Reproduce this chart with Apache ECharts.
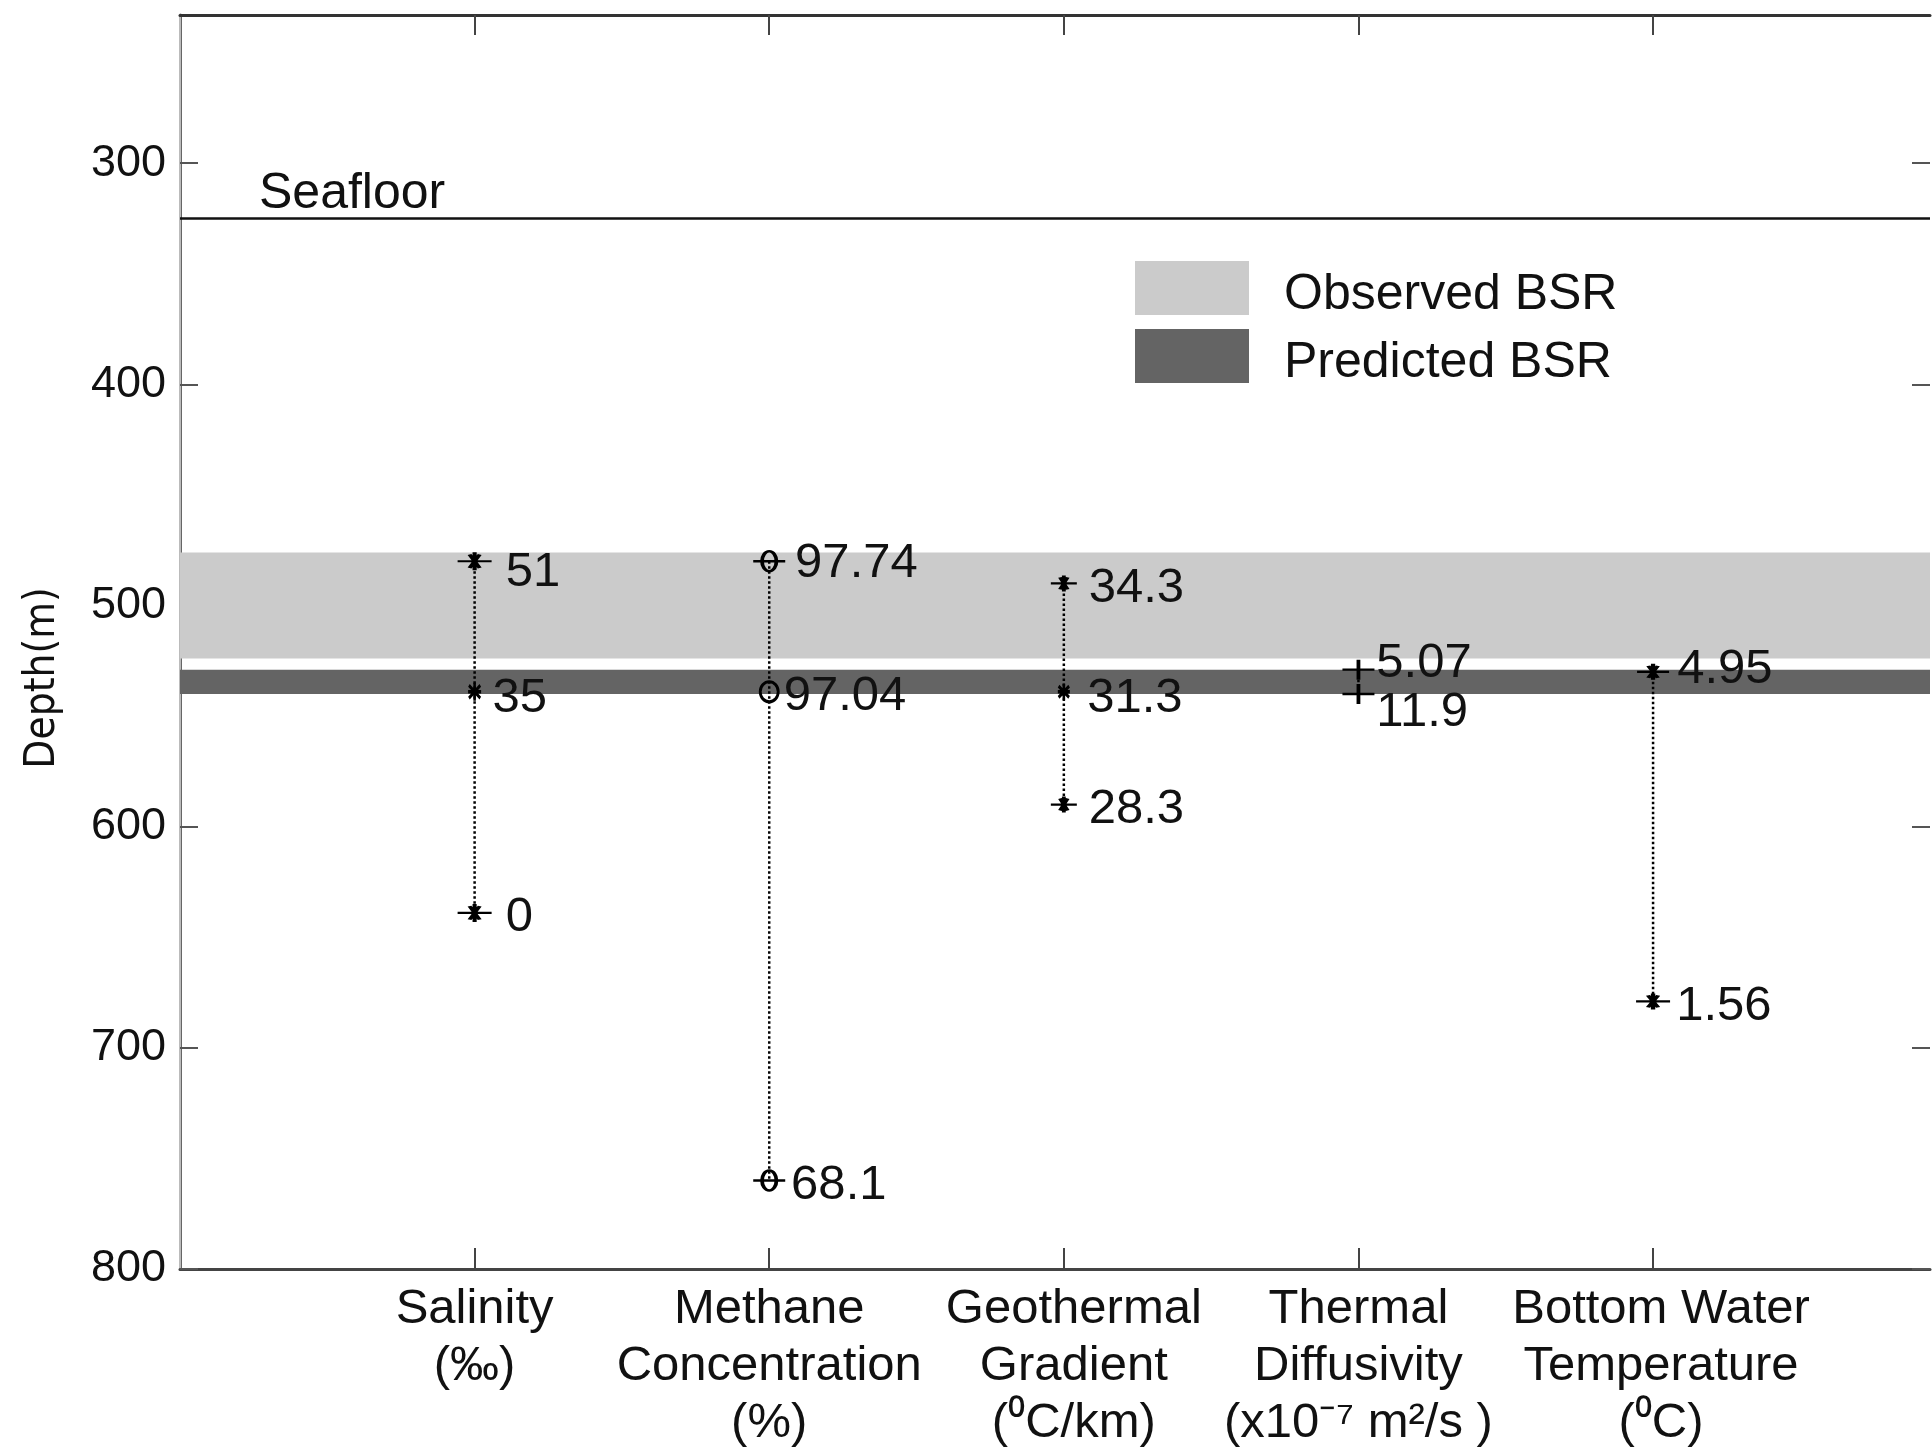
<!DOCTYPE html>
<html>
<head>
<meta charset="utf-8">
<script src="https://cdn.jsdelivr.net/npm/echarts@6/dist/echarts.min.js"></script>
<style>html,body{margin:0;padding:0;background:#fff}#c{width:1932px;height:1452px}</style>
</head>
<body>
<div id="c"></div>
<script>
// ---- data ----
const categories = ['Salinity\n(‰)', 'Methane\nConcentration\n(%)', 'Geothermal\nGradient\n(⁰C/km)', 'Thermal\nDiffusivity\n(x10⁻⁷ m²/s )', 'Bottom Water\nTemperature\n(⁰C)'];
const categoryPos = [1, 2, 3, 4, 5];
const depthTicks = [300, 400, 500, 600, 700, 800];
const seafloorDepth = 325;
const observedBSR = [476, 524];
const predictedBSR = [529, 540];

const salinityDepth = [480, 539, 639];
const salinityValue = ['51', '35', '0'];
const methaneDepth = [480, 539, 760];
const methaneValue = ['97.74', '97.04', '68.1'];
const geothermalDepth = [490, 539, 590];
const geothermalValue = ['34.3', '31.3', '28.3'];
const diffusivityDepth = [529, 540];
const diffusivityValue = ['5.07', '11.9'];
const bottomTempDepth = [530, 679];
const bottomTempValue = ['4.95', '1.56'];

// ---- styling ----
const categoryLabelShift = [0, 0, 10, 0, 8]; // px, horizontal nudge of category labels
const STAR_BAR = 'path://M0 10 L40 10 M20 2 L20 18 M14 4 L26 16 M14 16 L26 4';
const STAR = 'path://M10 0 L10 20 M3 3 L17 17 M3 17 L17 3 M2 10 L18 10';
const CIRCLE_BAR = 'path://M0 10 L40 10 M29 10 A9 9 0 1 1 11 10 A9 9 0 1 1 29 10';
const CIRCLE = 'path://M19 10 A9 9 0 1 1 1 10 A9 9 0 1 1 19 10';
const PLUS = 'path://M0 10 L40 10 M20 0 L20 20';

const FONT = "'Liberation Sans', Arial, sans-serif";

// pick a narrow face for the condensed axis title if one is installed
function hasFont(name) {
  const c = document.createElement('canvas').getContext('2d');
  const s = 'Depth(m) abcdefghijklmnop';
  c.font = '50px monospace';
  const w0 = c.measureText(s).width;
  c.font = '50px "' + name + '", monospace';
  return Math.abs(c.measureText(s).width - w0) > 0.5;
}
let nameFont = FONT, nameSize = 40;
if (hasFont('Liberation Sans Narrow')) { nameFont = "'Liberation Sans Narrow', " + FONT; nameSize = 47; }
else if (hasFont('DejaVu Sans Condensed')) { nameFont = "'DejaVu Sans Condensed', " + FONT; nameSize = 42; }

function pts(x, depths, values, symbols, sizes, extra) {
  return depths.map((d, i) => {
    const o = {
      value: [x, d],
      symbol: symbols[i],
      symbolSize: sizes[i],
      label: { formatter: values[i] }
    };
    if (extra && extra[i]) Object.assign(o.label, extra[i]);
    return o;
  });
}

function paramSeries(name, data) {
  return {
    name: name,
    type: 'line',
    z: 5,
    data: data,
    lineStyle: { color: '#000', width: 2.5, type: 'dotted' },
    itemStyle: { color: 'rgba(0,0,0,0)', borderColor: '#000', borderWidth: 3 },
    label: { show: true, position: 'right', distance: 12, offset: [0, 5], fontSize: 49, color: '#111', fontFamily: FONT },
    emphasis: { disabled: true },
    animation: false
  };
}

const catRich = {};
categoryLabelShift.forEach((s, i) => {
  catRich['c' + i] = { fontSize: 49, lineHeight: 57, color: '#111', fontFamily: FONT, padding: [0, 0, 0, 2 * s] };
});

const yBase = { type: 'value', inverse: true, min: 233, max: 800, splitLine: { show: false } };

const chart = echarts.init(document.getElementById('c'), null, { renderer: 'canvas' });

const option = {
  animation: false,
  backgroundColor: '#fff',
  textStyle: { fontFamily: FONT },
  grid: { left: 180, right: 2, top: 15, bottom: 181 },
  legend: {
    orient: 'vertical',
    left: 1130,
    top: 251,
    itemWidth: 114,
    itemHeight: 54,
    itemGap: 4,
    icon: 'rect',
    data: ['Observed BSR', 'Predicted BSR'],
    formatter: '{a|{name}}',
    textStyle: {
      fontSize: 50, color: '#111', fontFamily: FONT, padding: [0, 0, 0, 30],
      rich: { a: { fontSize: 50, lineHeight: 50, color: '#111', fontFamily: FONT, padding: [14, 0, 0, 0] } }
    },
    selectedMode: false
  },
  xAxis: [{
    type: 'value', min: 0, max: 5.94, position: 'bottom',
    axisLine: { show: true, lineStyle: { color: '#444', width: 3 } },
    axisTick: { show: true, inside: true, length: 21, customValues: categoryPos, lineStyle: { color: '#444', width: 2 } },
    axisLabel: {
      show: true, customValues: categoryPos, margin: 12, hideOverlap: false, showMinLabel: true, showMaxLabel: true,
      formatter: v => {
        const i = Math.round(v) - 1;
        return categories[i].split('\n').map(l => '{c' + i + '|' + l + '}').join('\n');
      },
      rich: catRich, fontSize: 49, lineHeight: 57, color: '#111', fontFamily: FONT
    },
    splitLine: { show: false }
  }, {
    type: 'value', min: 0, max: 5.94, position: 'top',
    axisLine: { show: true, lineStyle: { color: '#333', width: 3 } },
    axisTick: { show: true, inside: true, length: 20, customValues: categoryPos, lineStyle: { color: '#444', width: 2 } },
    axisLabel: { show: false },
    splitLine: { show: false }
  }],
  yAxis: [Object.assign({}, yBase, {
    position: 'left',
    name: 'Depth(m)', nameLocation: 'middle', nameGap: 116,
    nameTextStyle: { fontSize: nameSize, color: '#111', fontFamily: nameFont, padding: [0, 72, 0, 0] },
    axisLine: { show: true, lineStyle: { color: '#666', width: 3 } },
    axisTick: { show: false },
    axisLabel: { show: true, customValues: depthTicks, fontSize: 45, margin: 14, color: '#111', fontFamily: FONT }
  }), Object.assign({}, yBase, {
    position: 'right',
    axisLine: { show: true, lineStyle: { color: '#bbb', width: 2 } },
    axisTick: { show: false },
    axisLabel: { show: false }
  }), Object.assign({}, yBase, {
    // inward tick marks of the left frame
    position: 'left', offset: -18,
    axisLine: { show: false },
    axisTick: { show: true, inside: false, length: 18, customValues: depthTicks, lineStyle: { color: '#555', width: 2 } },
    axisLabel: { show: false }
  }), Object.assign({}, yBase, {
    // inward tick marks of the right frame
    position: 'right', offset: -18,
    axisLine: { show: false },
    axisTick: { show: true, inside: false, length: 18, customValues: depthTicks, lineStyle: { color: '#555', width: 2 } },
    axisLabel: { show: false }
  })],
  series: [
    {
      name: 'Observed BSR', type: 'line', data: [], z: 1,
      itemStyle: { color: '#cbcbcb' }, lineStyle: { color: '#cbcbcb' },
      markArea: { silent: true, itemStyle: { color: '#cbcbcb' }, data: [[{ yAxis: observedBSR[0] }, { yAxis: observedBSR[1] }]] }
    },
    {
      name: 'Predicted BSR', type: 'line', data: [], z: 1,
      itemStyle: { color: '#646464' }, lineStyle: { color: '#646464' },
      markArea: { silent: true, itemStyle: { color: '#646464' }, data: [[{ yAxis: predictedBSR[0] }, { yAxis: predictedBSR[1] }]] }
    },
    {
      name: 'Seafloor', type: 'line', data: [], z: 3,
      markLine: {
        silent: true, symbol: 'none', animation: false,
        lineStyle: { color: '#111', width: 2.5, type: 'solid' },
        label: { show: true, formatter: 'Seafloor', position: 'insideStartTop', distance: [79, -1], fontSize: 50, color: '#111', fontFamily: FONT },
        data: [{ yAxis: seafloorDepth }]
      }
    },
    paramSeries('Salinity', pts(categoryPos[0], salinityDepth, salinityValue,
      [STAR_BAR, STAR, STAR_BAR], [[34, 18], [13, 18], [34, 18]],
      [{ offset: [0, 11] }, { distance: 10, offset: [0, 7] }, null])),
    paramSeries('Methane', pts(categoryPos[1], methaneDepth, methaneValue,
      [CIRCLE_BAR, CIRCLE, CIRCLE_BAR], [[32, 20], [18, 20], [32, 20]],
      [{ distance: 8, offset: [0, 2] }, { distance: 4 }, { distance: 4 }])),
    paramSeries('Geothermal', pts(categoryPos[2], geothermalDepth, geothermalValue,
      [STAR_BAR, STAR, STAR_BAR], [[26, 16], [12, 16], [26, 16]],
      [{ distance: 10 }, { distance: 16, offset: [0, 7] }, { distance: 10 }])),
    paramSeries('Diffusivity', pts(categoryPos[3], diffusivityDepth, diffusivityValue,
      [PLUS, PLUS], [[32, 20], [32, 20]],
      [{ distance: 0, offset: [0, -6] }, { distance: 0, offset: [0, 19] }])),
    paramSeries('BottomTemp', pts(categoryPos[4], bottomTempDepth, bottomTempValue,
      [STAR_BAR, STAR_BAR], [[32, 16], [34, 16]],
      [{ distance: 6, offset: [0, -2] }, { distance: 4 }]))
  ]
};
chart.setOption(option);
</script>
</body>
</html>
